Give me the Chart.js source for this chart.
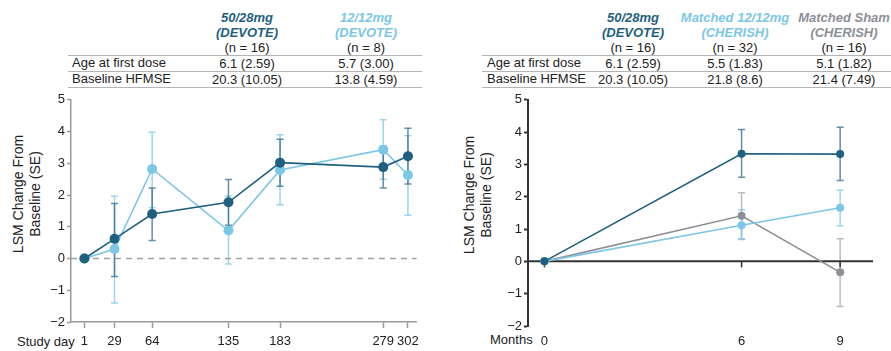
<!DOCTYPE html>
<html lang="en">
<head>
<meta charset="UTF-8">
<title>LSM Change From Baseline</title>
<script src="https://cdn.jsdelivr.net/npm/chart.js@4.4.7/dist/chart.umd.min.js"></script>
<style>
  * { margin: 0; padding: 0; box-sizing: border-box; }
  body { width: 891px; height: 351px; background: #fff; position: relative; overflow: hidden;
         font-family: 'Liberation Sans', Arial, sans-serif; font-size: 13px; color: #222; }
  .abs { position: absolute; white-space: nowrap; }
  .cell { position: absolute; width: 140px; text-align: center; white-space: nowrap; line-height: 15px; }
  .lbl { position: absolute; white-space: nowrap; line-height: 16px; }
  .hline { position: absolute; height: 1px; background: #b4b4b4; }
  .head { font-weight: bold; font-style: italic; }
  .ytitle { position: absolute; width: 130px; height: 34px; line-height: 17px; text-align: center;
            font-size: 14px; transform: rotate(-90deg); }
  .box { position: absolute; }
</style>
</head>
<body>

<!-- left table -->
<div class="cell" style="left:177px; top:10px;"><span class="head" style="color:#1f5f80">50/28mg<br>(DEVOTE)</span><br>(n = 16)</div>
<div class="cell" style="left:296px; top:10px;"><span class="head" style="color:#7cc6e6">12/12mg<br>(DEVOTE)</span><br>(n = 8)</div>
<div class="hline" style="left:68px; width:354px; top:55px;"></div>
<div class="lbl" style="left:72px; top:55px;">Age at first dose</div>
<div class="cell" style="left:177px; top:56px;">6.1 (2.59)</div>
<div class="cell" style="left:296px; top:56px;">5.7 (3.00)</div>
<div class="hline" style="left:68px; width:354px; top:71px;"></div>
<div class="lbl" style="left:72px; top:71px;">Baseline HFMSE</div>
<div class="cell" style="left:177px; top:72px;">20.3 (10.05)</div>
<div class="cell" style="left:296px; top:72px;">13.8 (4.59)</div>
<div class="hline" style="left:68px; width:354px; top:87px;"></div>

<!-- right table -->
<div class="cell" style="left:563px; top:10px;"><span class="head" style="color:#1f5f80">50/28mg<br>(DEVOTE)</span><br>(n = 16)</div>
<div class="cell" style="left:665px; top:10px;"><span class="head" style="color:#7cc6e6">Matched 12/12mg<br>(CHERISH)</span><br>(n = 32)</div>
<div class="cell" style="left:774px; top:10px;"><span class="head" style="color:#8c9096">Matched Sham<br>(CHERISH)</span><br>(n = 16)</div>
<div class="hline" style="left:482px; width:409px; top:55px;"></div>
<div class="lbl" style="left:487px; top:55px;">Age at first dose</div>
<div class="cell" style="left:563px; top:56px;">6.1 (2.59)</div>
<div class="cell" style="left:665px; top:56px;">5.5 (1.83)</div>
<div class="cell" style="left:774px; top:56px;">5.1 (1.82)</div>
<div class="hline" style="left:482px; width:409px; top:71px;"></div>
<div class="lbl" style="left:487px; top:71px;">Baseline HFMSE</div>
<div class="cell" style="left:563px; top:72px;">20.3 (10.05)</div>
<div class="cell" style="left:665px; top:72px;">21.8 (8.6)</div>
<div class="cell" style="left:774px; top:72px;">21.4 (7.49)</div>
<div class="hline" style="left:482px; width:409px; top:87px;"></div>

<!-- axis titles -->
<div class="ytitle" style="left:-38px; top:177px;">LSM Change From<br>Baseline (SE)</div>
<div class="ytitle" style="left:413px; top:178px;">LSM Change From<br>Baseline (SE)</div>
<div class="abs" style="left:17px; top:334px;">Study day</div>
<div class="abs" style="left:490px; top:332px;">Months</div>

<div class="box" style="left:0; top:90px; width:425px; height:261px;"><canvas id="leftChart"></canvas></div>
<div class="box" style="left:445px; top:90px; width:446px; height:261px;"><canvas id="rightChart"></canvas></div>

<script>
  // DEVOTE, study day
  const studyDays = [1, 29, 64, 135, 183, 279, 302];
  const dev50Mean = [0, 0.62, 1.40, 1.77, 3.02, 2.88, 3.22];
  const dev50Low  = [0, -0.57, 0.57, 1.05, 2.28, 2.22, 2.35];
  const dev50High = [0, 1.73, 2.22, 2.49, 3.76, 3.54, 4.10];
  const dev12Mean = [0, 0.30, 2.82, 0.88, 2.79, 3.43, 2.63];
  const dev12Low  = [0, -1.40, 1.60, -0.17, 1.69, 2.50, 1.36];
  const dev12High = [0, 1.96, 3.98, 1.97, 3.90, 4.37, 3.87];

  // DEVOTE vs CHERISH, months
  const months = [0, 6, 9];
  const r50Mean = [0, 3.33, 3.32];
  const r50Low  = [0, 2.60, 2.50];
  const r50High = [0, 4.08, 4.15];
  const r12Mean = [0, 1.12, 1.66];
  const r12Low  = [0, 0.68, 1.10];
  const r12High = [0, 1.60, 2.20];
  const shamMean = [0, 1.41, -0.34];
  const shamLow  = [0, 0.70, -1.40];
  const shamHigh = [0, 2.12, 0.70];

  const yTicks = [-2, -1, 0, 1, 2, 3, 4, 5];

  const DARK = '#1f5f80', LIGHT = '#7cc6e6', GRAY = '#8c9096';

  Chart.defaults.font.family = "'Liberation Sans', Arial, sans-serif";
  Chart.defaults.font.size = 13;
  Chart.defaults.color = '#222';

  const pts = (xs, ys) => xs.map((x, i) => ({ x: x, y: ys[i] }));
  const minus = v => (v < 0 ? '\u2212' + Math.abs(v) : '' + v);

  // vertical SE bars with caps
  const errorBars = {
    id: 'errorBars',
    beforeDatasetsDraw(chart) {
      const { ctx, scales: { x, y } } = chart;
      chart.data.datasets.slice().reverse().forEach(ds => {
        if (!ds.errLow) return;
        ctx.save();
        ctx.strokeStyle = ds.errColor;
        ctx.lineWidth = 1.5;
        ds.data.forEach((p, j) => {
          if (ds.errLow[j] === ds.errHigh[j]) return;
          const px = x.getPixelForValue(p.x);
          const lo = y.getPixelForValue(ds.errLow[j]);
          const hi = y.getPixelForValue(ds.errHigh[j]);
          ctx.beginPath();
          ctx.moveTo(px, lo); ctx.lineTo(px, hi);
          ctx.moveTo(px - 3.5, lo); ctx.lineTo(px + 3.5, lo);
          ctx.moveTo(px - 3.5, hi); ctx.lineTo(px + 3.5, hi);
          ctx.stroke();
        });
        ctx.restore();
      });
    }
  };

  // line at y = 0 (dashed on the left chart, solid axis on the right)
  const zeroLine = {
    id: 'zeroLine',
    beforeDatasetsDraw(chart, args, opts) {
      const { ctx, chartArea, scales: { x, y } } = chart;
      const py = y.getPixelForValue(0);
      ctx.save();
      ctx.strokeStyle = opts.color;
      ctx.lineWidth = opts.width;
      ctx.setLineDash(opts.dash || []);
      ctx.beginPath();
      ctx.moveTo(chartArea.left, py);
      ctx.lineTo(chartArea.right, py);
      ctx.stroke();
      if (opts.ticks) {
        ctx.setLineDash([]);
        ctx.lineWidth = 1.5;
        x.ticks.forEach(t => {
          const px = x.getPixelForValue(t.value);
          ctx.beginPath();
          ctx.moveTo(px, py); ctx.lineTo(px, py + 6);
          ctx.stroke();
        });
      }
      ctx.restore();
    }
  };

  const yScale = (width, border, bw) => ({
    min: -2, max: 5,
    afterBuildTicks: s => { s.ticks = yTicks.map(v => ({ value: v })); },
    afterFit: s => { s.width = width; },
    border: { color: border, width: bw },
    grid: { drawOnChartArea: false, tickLength: 4, tickColor: border, tickWidth: bw },
    ticks: { padding: 2, color: '#222', callback: v => minus(v) }
  });

  // first dataset is drawn on top
  new Chart(document.getElementById('leftChart'), {
    type: 'line',
    data: {
      datasets: [
        {
          label: '50/28mg (DEVOTE)', data: pts(studyDays, dev50Mean),
          errLow: dev50Low, errHigh: dev50High, errColor: 'rgba(31,95,128,0.7)',
          borderColor: DARK, backgroundColor: DARK, borderWidth: 1.6,
          pointRadius: 5, pointBorderWidth: 0
        },
        {
          label: '12/12mg (DEVOTE)', data: pts(studyDays, dev12Mean),
          errLow: dev12Low, errHigh: dev12High, errColor: 'rgba(124,198,230,0.75)',
          borderColor: LIGHT, backgroundColor: LIGHT, borderWidth: 1.6,
          pointRadius: 5, pointBorderWidth: 0
        }
      ]
    },
    options: {
      responsive: true, maintainAspectRatio: false, animation: false,
      layout: { padding: { top: 8, right: 8 } },
      plugins: {
        legend: { display: false }, tooltip: { enabled: false },
        zeroLine: { color: '#a0a0a0', width: 1.5, dash: [6, 5] }
      },
      scales: {
        x: {
          type: 'linear', min: -11.5, max: 310,
          afterBuildTicks: s => { s.ticks = studyDays.map(v => ({ value: v })); },
          afterFit: s => { s.height = 29; },
          border: { color: '#9a9a9a', width: 1.5 },
          grid: { drawOnChartArea: false, tickLength: 6, tickColor: '#9a9a9a', tickWidth: 1.5 },
          ticks: { padding: 6, color: '#222', maxRotation: 0, autoSkip: false, callback: v => '' + v }
        },
        y: yScale(71, '#9a9a9a', 1.5)
      }
    },
    plugins: [errorBars, zeroLine]
  });

  new Chart(document.getElementById('rightChart'), {
    type: 'line',
    data: {
      datasets: [
        {
          label: '50/28mg (DEVOTE)', data: pts(months, r50Mean),
          errLow: r50Low, errHigh: r50High, errColor: 'rgba(31,95,128,0.7)',
          borderColor: DARK, backgroundColor: DARK, borderWidth: 1.6,
          pointRadius: 4, pointBorderWidth: 0
        },
        {
          label: 'Matched 12/12mg (CHERISH)', data: pts(months, r12Mean),
          errLow: r12Low, errHigh: r12High, errColor: 'rgba(124,198,230,0.75)',
          borderColor: LIGHT, backgroundColor: LIGHT, borderWidth: 1.6,
          pointRadius: 4, pointBorderWidth: 0
        },
        {
          label: 'Matched Sham (CHERISH)', data: pts(months, shamMean),
          errLow: shamLow, errHigh: shamHigh, errColor: 'rgba(140,144,150,0.6)',
          borderColor: GRAY, backgroundColor: GRAY, borderWidth: 1.6,
          pointRadius: 4, pointBorderWidth: 0
        }
      ]
    },
    options: {
      responsive: true, maintainAspectRatio: false, animation: false,
      layout: { padding: { top: 7, right: 18 } },
      plugins: {
        legend: { display: false }, tooltip: { enabled: false },
        zeroLine: { color: '#333', width: 2, ticks: true }
      },
      scales: {
        x: {
          type: 'linear', min: -0.5, max: 10,
          afterBuildTicks: s => { s.ticks = months.map(v => ({ value: v })); },
          afterFit: s => { s.height = 25; },
          border: { display: false },
          grid: { display: false, drawTicks: false },
          ticks: { padding: 8, color: '#222', maxRotation: 0, autoSkip: false, callback: v => '' + v }
        },
        y: yScale(83, '#333', 2)
      }
    },
    plugins: [errorBars, zeroLine]
  });
</script>
</body>
</html>
